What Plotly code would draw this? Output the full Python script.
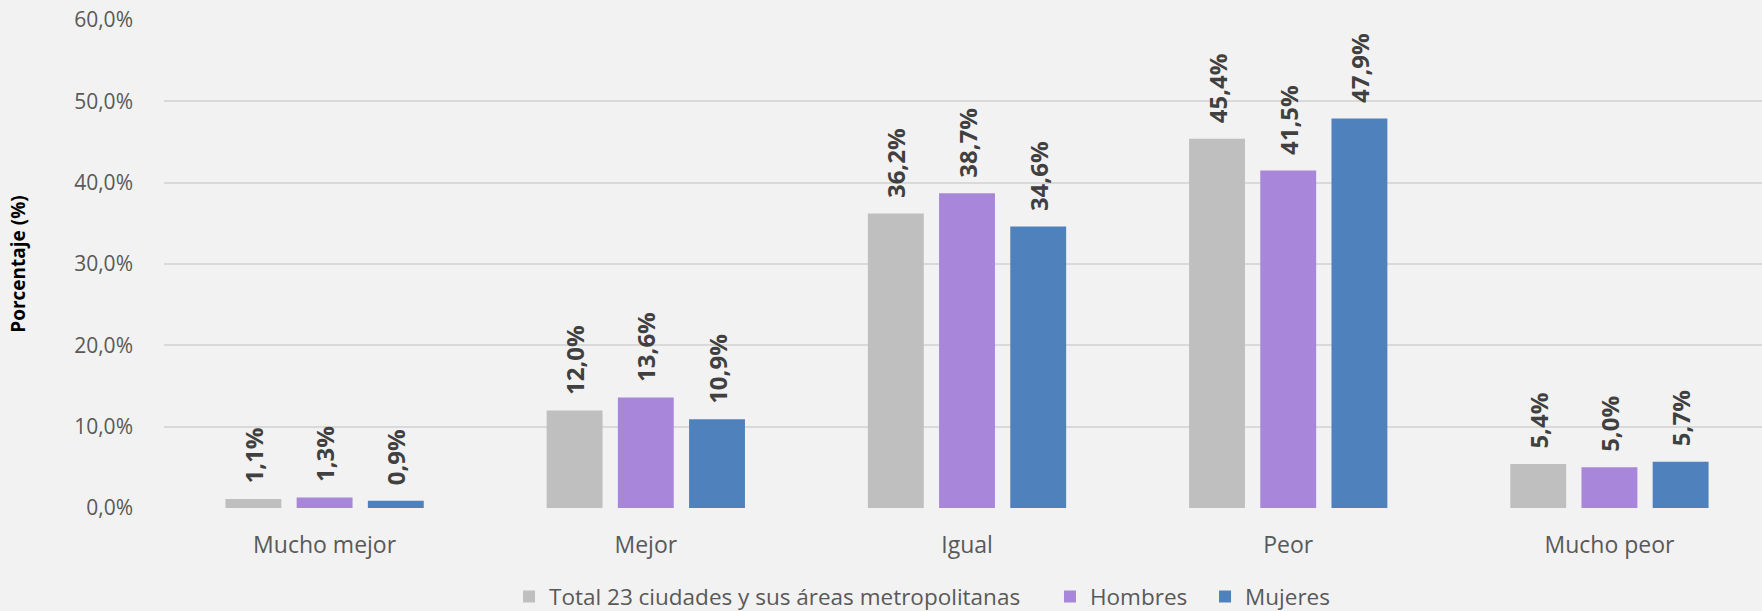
import plotly.graph_objects as go

categories = ["Mucho mejor", "Mejor", "Igual", "Peor", "Mucho peor"]
series_names = ["Total 23 ciudades y sus áreas metropolitanas", "Hombres", "Mujeres"]
total_vals = [1.1, 12.0, 36.2, 45.4, 5.4]
hombres_vals = [1.3, 13.6, 38.7, 41.5, 5.0]
mujeres_vals = [0.9, 10.9, 34.6, 47.9, 5.7]
y_ticks = [0, 10, 20, 30, 40, 50, 60]
y_tick_labels = ["0,0%", "10,0%", "20,0%", "30,0%", "40,0%", "50,0%", "60,0%"]

_COLORS = ["#bfbfbf", "#a886d9", "#4f81bd"]
_FONT = "Open Sans, Noto Sans, sans-serif"
# one legend per series so the entries can be spaced like the original
_LEGENDS = ["legend", "legend2", "legend3"]
_LEGEND_X = [0.2889, 0.5959, 0.6839]

fig = go.Figure()
for name, vals, color, leg in zip(
    series_names, [total_vals, hombres_vals, mujeres_vals], _COLORS, _LEGENDS
):
    fig.add_trace(go.Bar(
        x=categories,
        y=vals,
        name=name,
        legend=leg,
        showlegend=True,
        marker=dict(color=color, line=dict(width=0)),
        # leading nbsp pushes the rotated label away from the bar top
        texttemplate="\u00a0\u00a0%{y:.1f}%",
        textposition="outside",
        textangle=-90,
        constraintext="none",
        textfont=dict(family=_FONT, size=24, color="#404040", weight="bold"),
        cliponaxis=False,
        hoverinfo="skip",
    ))

legend_style = dict(
    orientation="h",
    xref="container",
    yref="container",
    xanchor="left",
    y=0.023,
    yanchor="middle",
    font=dict(size=22.5, color="#595959"),
    bgcolor="rgba(0,0,0,0)",
)

fig.update_layout(
    width=1762,
    height=611,
    showlegend=True,
    barmode="group",
    bargap=0.335,
    bargroupgap=0.215,
    separators=",.",
    paper_bgcolor="#f2f2f2",
    plot_bgcolor="#f2f2f2",
    font=dict(family=_FONT, color="#595959", size=20),
    margin=dict(l=164, r=0, t=20, b=103),
    xaxis=dict(
        range=[-0.5, 4.475],
        showgrid=False,
        showline=False,
        zeroline=False,
        ticks="",
        tickfont=dict(size=23, color="#595959"),
        ticklabelstandoff=21,
    ),
    yaxis=dict(
        range=[0, 60],
        tickvals=y_ticks,
        ticktext=y_tick_labels,
        showgrid=True,
        gridcolor="#d9d9d9",
        gridwidth=2,
        zeroline=False,
        showline=False,
        tickfont=dict(size=21, color="#595959"),
        ticklabelstandoff=30,
        title=dict(
            text="<b>Porcentaje (%)</b>",
            font=dict(size=19, color="#000000"),
            standoff=43,
        ),
    ),
    legend=dict(legend_style, x=_LEGEND_X[0]),
    legend2=dict(legend_style, x=_LEGEND_X[1]),
    legend3=dict(legend_style, x=_LEGEND_X[2]),
)

fig.write_html(
    "out.html",
    config={"displayModeBar": False},
    post_script="document.body.style.margin='0';",
)
